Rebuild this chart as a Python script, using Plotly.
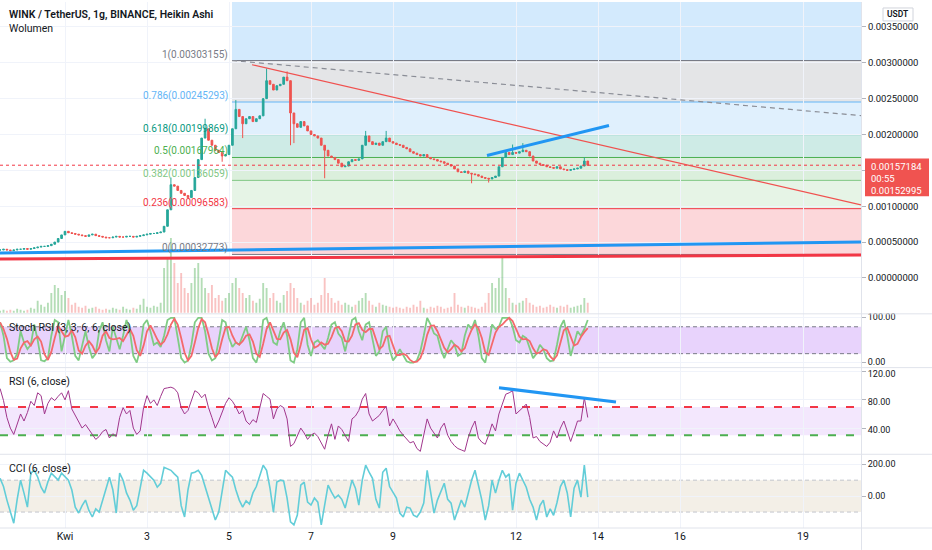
import plotly.graph_objects as go
import pandas as pd

# ---------------- data ----------------
START = pd.Timestamp("2021-03-30 10:00")
STEP_HOURS = 2

# Heikin Ashi close, in units of 1e-5 USDT
CLOSE_E5 = [
    39, 40, 39, 38, 39, 40, 40, 41, 40, 41,
    42, 43, 44, 44, 45, 47, 50, 55, 60, 65,
    63, 62, 61, 60, 59, 58, 60, 61, 59, 58,
    57, 56, 56, 57, 58, 57, 57, 58, 58, 57,
    58, 59, 60, 61, 62, 62, 63, 64, 72, 95,
    130, 128, 122, 118, 115, 112, 122, 140, 165, 195,
    208, 192, 185, 178, 175, 170, 172, 185, 208, 235,
    225, 215, 222, 225, 218, 222, 226, 250, 275, 270,
    262, 268, 270, 280, 275, 230, 215, 210, 218, 212,
    205, 200, 198, 195, 185, 178, 170, 168, 165, 160,
    155, 156, 162, 165, 164, 166, 185, 198, 190, 186,
    188, 185, 190, 195, 190, 188, 186, 185, 182, 180,
    176, 174, 172, 170, 172, 168, 166, 165, 163, 162,
    160, 158, 156, 152, 148, 147, 149, 146, 145, 144,
    142, 140, 139, 138, 140, 142, 155, 168, 175, 172,
    175, 174, 176, 178, 176, 170, 163, 160, 158, 157,
    155, 154, 153, 155, 152, 151, 150, 151, 152, 153,
    156, 163, 157,
]

WICK_IDX = [50, 60, 65, 69, 71, 78, 84, 85, 86, 95, 107, 113, 138, 143, 150, 153, 171]
WICK_HI_E5 = [140, 222, 0, 248, 0, 292, 288, 0, 0, 0, 205, 205, 0, 0, 186, 188, 168]
WICK_LO_E5 = [0, 0, 162, 0, 195, 0, 0, 185, 188, 139, 0, 0, 132, 133, 0, 0, 0]

VOLUME = [
    2, 3, 2, 3, 2, 4, 3, 2, 3, 5,
    4, 12, 8, 6, 10, 20, 28, 25, 18, 22,
    15, 8, 10, 6, 5, 7, 4, 5, 6, 4,
    3, 4, 3, 5, 4, 3, 6, 4, 3, 5,
    4, 8, 14, 6, 5, 7, 6, 10, 45, 55,
    75, 50, 30, 40, 25, 20, 30, 45, 50, 35,
    25, 20, 28, 15, 18, 12, 15, 20, 30, 35,
    25, 20, 15, 18, 12, 10, 14, 30, 25, 15,
    20, 12, 10, 18, 22, 30, 25, 15, 10, 8,
    12, 15, 8, 10, 18, 35, 20, 15, 10, 12,
    8, 10, 8, 6, 8, 12, 15, 20, 12, 8,
    6, 10, 8, 7, 6, 5, 6, 5, 4, 6,
    5, 8, 6, 12, 5, 4, 6, 5, 7, 6,
    4, 5, 6, 20, 8, 6, 5, 7, 6, 5,
    4, 6, 10, 20, 30, 25, 35, 55, 25, 15,
    10, 8, 10, 12, 15, 10, 8, 6, 7, 5,
    6, 8, 6, 5, 7, 6, 8, 5, 6, 7,
    8, 15, 10,
]

STOCH_K = [
    90, 60, 10, 2, 5, 20, 70, 45, 30, 40,
    85, 50, 5, 3, 10, 60, 95, 90, 25, 60,
    95, 60, 15, 5, 40, 70, 35, 10, 20, 70,
    90, 50, 25, 80, 55, 30, 60, 95, 70, 15,
    0, 30, 85, 95, 70, 40, 45, 35, 60, 95,
    100, 100, 55, 10, 0, 5, 40, 90, 100, 100,
    70, 20, 5, 10, 50, 95, 90, 55, 35, 45,
    40, 60, 80, 50, 10, 0, 30, 95, 100, 75,
    45, 40, 70, 90, 60, 5, 0, 30, 90, 100,
    40, 15, 45, 50, 40, 30, 55, 85, 90, 65,
    55, 25, 60, 95, 100, 70, 50, 85, 90, 50,
    15, 25, 70, 80, 30, 5, 15, 30, 15, 3,
    0, 0, 5, 25, 60, 100, 85, 65, 60, 30,
    10, 30, 50, 40, 15, 20, 60, 85, 75, 95,
    60, 10, 0, 40, 85, 75, 80, 100, 100, 100,
    80, 50, 45, 60, 55, 30, 10, 20, 40, 30,
    10, 3, 5, 40, 80, 95, 60, 15, 40, 70,
    60, 75, 95,
]

STOCH_D = [
    90, 75, 53, 24, 6, 9, 32, 45, 48, 38,
    52, 58, 47, 19, 6, 24, 55, 82, 70, 58,
    60, 72, 57, 27, 20, 38, 48, 38, 22, 33,
    60, 70, 55, 52, 53, 55, 48, 62, 75, 60,
    28, 15, 38, 70, 83, 68, 52, 40, 47, 63,
    85, 98, 85, 55, 22, 5, 15, 45, 77, 97,
    90, 63, 32, 12, 22, 52, 78, 80, 60, 45,
    40, 48, 60, 63, 47, 20, 13, 42, 75, 90,
    73, 53, 52, 67, 73, 52, 22, 12, 40, 73,
    77, 52, 33, 37, 45, 40, 42, 57, 77, 80,
    70, 48, 47, 60, 85, 88, 73, 68, 75, 75,
    52, 30, 37, 58, 60, 38, 17, 17, 20, 16,
    6, 1, 2, 10, 30, 62, 82, 83, 70, 52,
    33, 23, 30, 40, 35, 25, 32, 55, 73, 85,
    77, 55, 23, 17, 42, 67, 80, 85, 93, 100,
    93, 77, 58, 52, 53, 48, 32, 20, 23, 30,
    27, 14, 6, 16, 42, 72, 78, 57, 38, 42,
    57, 68, 77,
]

RSI6 = [
    96, 79, 55, 40, 31, 45, 60, 50, 62, 78,
    72, 90, 86, 60, 75, 83, 79, 85, 90, 80,
    93, 67, 58, 50, 40, 45, 38, 30, 24, 28,
    35, 38, 26, 32, 28, 55, 69, 60, 65, 40,
    31, 36, 69, 86, 75, 80, 72, 85, 96, 97,
    98, 96, 90, 69, 60, 65, 80, 93, 90, 83,
    88, 69, 55, 40, 50, 62, 75, 83, 78, 70,
    60, 65, 50, 45, 52, 48, 70, 89, 85, 81,
    53, 67, 72, 69, 53, 14, 18, 28, 40, 33,
    24, 30, 33, 28, 20, 10, 30, 46, 24, 43,
    38, 30, 21, 53, 57, 65, 81, 89, 60, 50,
    54, 58, 65, 71, 43, 53, 45, 36, 30, 24,
    19, 21, 11, 7, 30, 53, 40, 33, 26, 40,
    47, 30, 21, 15, 11, 9, 7, 26, 40, 50,
    26, 20, 17, 30, 46, 36, 60, 74, 88, 90,
    93, 60, 64, 69, 74, 55, 26, 28, 21, 18,
    14, 20, 36, 26, 40, 50, 35, 21, 35, 50,
    50, 83, 55,
]

CCI6 = [
    112, 60, -25, -100, -170, -20, 100, 19, -69, 144,
    162, 120, 56, 19, 90, 144, 119, 100, 144, 120,
    100, 38, -69, -106, -60, -25, -90, -131, -80, -100,
    -25, 60, 119, 40, -106, 144, 100, 20, -25, -88,
    -60, 50, 162, 144, 120, 100, 56, 80, 181, 170,
    162, 140, 119, -60, -131, 40, 144, 150, 162, 130,
    60, -20, -88, -150, -100, 20, 162, 140, 119, 40,
    -25, -69, -30, -50, 20, 60, 120, 194, 162, 50,
    -100, 88, 100, 95, -12, -162, -181, -119, 69, 88,
    -38, -56, -12, -38, -181, -60, 69, 25, -12, 6,
    -20, -75, 20, 100, 50, -56, 100, 194, 150, 112,
    -20, -75, 150, 175, 60, 25, -12, -106, -131, -69,
    -75, -119, -131, -100, -44, 162, 40, -106, -25, 30,
    81, -20, -44, -150, -90, -25, -69, 20, 100, 162,
    60, -25, -150, -60, 100, 19, 100, 162, 119, 140,
    -88, 81, 144, 100, 56, -20, -69, -150, -60, -25,
    -131, -80, -120, -40, 60, 100, 20, -131, 50, 100,
    -6, 194, -6,
]

PRICE_TICKS = [0.0, 0.0005, 0.001, 0.0015, 0.002, 0.0025, 0.003, 0.0035]
TICK_DATES = ["2021-04-01", "2021-04-03", "2021-04-05", "2021-04-07", "2021-04-09",
              "2021-04-12", "2021-04-14", "2021-04-16", "2021-04-19"]
TICK_TEXT = ["Kwi", "3", "5", "7", "9", "12", "14", "16", "19"]

FIB_LOW = 0.00032773
FIB_HIGH = 0.00303155
FIB_LEVELS = [0, 0.236, 0.382, 0.5, 0.618, 0.786, 1, 1.618]
FIB_COLORS = ["#787b86", "#f23645", "#81c784", "#4caf50", "#089981", "#64b5f6", "#787b86", "#2196f3"]
FIB_FILLS = ["rgba(120,123,134,0.2)", "rgba(242,54,69,0.2)", "rgba(129,199,132,0.2)",
             "rgba(76,175,80,0.2)", "rgba(8,153,129,0.2)", "rgba(100,181,246,0.2)",
             "rgba(120,123,134,0.2)", "rgba(33,150,243,0.2)"]
FIB_START = "2021-04-05 01:45"

LAST_PRICE = 0.00157184
LAST_TEXT = ["0.00157184", "00:55", "0.00152995"]

# user drawings: (date0, value0, date1, value1)
GRAY_RAY = ("2021-04-05 01:45", 0.00303155, "2021-04-20 09:57", 0.002263)
RED_TREND = ("2021-04-05 13:28", 0.002972, "2021-04-20 09:57", 0.001018)
BLUE_TREND = ("2021-04-11 07:01", 0.001708, "2021-04-14 06:26", 0.002125)
BLUE_BASE = ("2021-03-30 09:57", 0.000347, "2021-04-20 09:57", 0.000500)
RED_BASE = ("2021-03-30 09:57", 0.000264, "2021-04-20 09:57", 0.000319)
RSI_TREND = ("2021-04-11 14:03", 97.1, "2021-04-14 10:32", 77.1)

# ---------------- checks ----------------
n = len(CLOSE_E5)
for nm, arr in [("VOLUME", VOLUME), ("STOCH_K", STOCH_K), ("STOCH_D", STOCH_D),
                ("RSI6", RSI6), ("CCI6", CCI6)]:
    if len(arr) != n:
        raise ValueError(f"{nm} has {len(arr)} values, expected {n}")

times = [START + pd.Timedelta(hours=STEP_HOURS * i) for i in range(n)]
close = [v * 1e-5 for v in CLOSE_E5]
open_ = [close[0]] + close[:-1]
high = [max(o, c) for o, c in zip(open_, close)]
low = [min(o, c) for o, c in zip(open_, close)]
for idx, hi, lo in zip(WICK_IDX, WICK_HI_E5, WICK_LO_E5):
    if hi:
        high[idx] = max(high[idx], hi * 1e-5)
    if lo:
        low[idx] = min(low[idx], lo * 1e-5)
vol_colors = ["rgba(76,175,80,0.42)" if c >= o else "rgba(239,83,80,0.35)"
              for o, c in zip(open_, close)]

# ---------------- geometry ----------------
W, H = 932, 550
ML, MR, MT, MB = 0, 71, 0, 22
PW, PH = W - ML - MR, H - MT - MB          # 861 x 528


def py(px):       # pixel row -> paper y
    return (PH - px) / PH


def pxx(px):      # pixel column -> paper x
    return px / PW


R0, R1 = "2021-03-30 09:57:04", "2021-04-20 09:57:04"
PRICE_RANGE = [-0.0005, 277 / 72000]

fig = go.Figure()

fig.add_trace(go.Bar(x=times, y=VOLUME, xaxis="x", yaxis="y2",
                     marker=dict(color=vol_colors, line=dict(width=0)),
                     width=STEP_HOURS * 3600 * 1000 * 0.55, hoverinfo="skip"))
fig.add_trace(go.Candlestick(
    x=times, open=open_, high=high, low=low, close=close, xaxis="x", yaxis="y",
    increasing=dict(line=dict(color="#26a69a", width=1), fillcolor="#26a69a"),
    decreasing=dict(line=dict(color="#ef5350", width=1), fillcolor="#ef5350"),
    whiskerwidth=0, hoverinfo="skip"))

fig.add_trace(go.Scatter(x=times, y=STOCH_K, xaxis="x", yaxis="y3", mode="lines",
                         line=dict(color="#7fcc84", width=1.8), hoverinfo="skip"))
fig.add_trace(go.Scatter(x=times, y=STOCH_D, xaxis="x", yaxis="y3", mode="lines",
                         line=dict(color="#f4696c", width=1.8), hoverinfo="skip"))
fig.add_trace(go.Scatter(x=times, y=RSI6, xaxis="x", yaxis="y4", mode="lines",
                         line=dict(color="#a0368c", width=1), hoverinfo="skip"))
fig.add_trace(go.Scatter(x=times, y=CCI6, xaxis="x", yaxis="y5", mode="lines",
                         line=dict(color="#62cdd8", width=1.6), hoverinfo="skip"))

shapes = []
annotations = []

# fib zones and level lines
fib_prices = [FIB_LOW + lv * (FIB_HIGH - FIB_LOW) for lv in FIB_LEVELS]
for k in range(1, len(FIB_LEVELS)):
    y0 = fib_prices[k - 1]
    y1 = min(fib_prices[k], PRICE_RANGE[1])
    shapes.append(dict(type="rect", xref="x", yref="y", x0=FIB_START, x1=R1, y0=y0, y1=y1,
                       fillcolor=FIB_FILLS[k], line=dict(width=0), layer="below"))
for k, lv in enumerate(FIB_LEVELS):
    p = fib_prices[k]
    if p > PRICE_RANGE[1]:
        continue
    shapes.append(dict(type="line", xref="x", yref="y", x0=FIB_START, x1=R1, y0=p, y1=p,
                       line=dict(color=FIB_COLORS[k], width=1), layer="below"))
    annotations.append(dict(xref="x", yref="y", x=FIB_START, y=p, xanchor="right", yanchor="bottom",
                            xshift=-2, yshift=-2, showarrow=False, text=f"{lv}({p:.8f})",
                            font=dict(size=10, color=FIB_COLORS[k])))

# indicator bands
shapes += [
    dict(type="rect", xref="paper", yref="y3", x0=0, x1=1, y0=20, y1=80,
         fillcolor="#e8d3fc", line=dict(width=0), layer="below"),
    dict(type="line", xref="paper", yref="y3", x0=0, x1=1, y0=80, y1=80,
         line=dict(color="#787b86", width=1, dash="4px,3px"), layer="below"),
    dict(type="line", xref="paper", yref="y3", x0=0, x1=1, y0=20, y1=20,
         line=dict(color="#787b86", width=1, dash="4px,3px"), layer="below"),
    dict(type="rect", xref="paper", yref="y4", x0=0, x1=1, y0=30, y1=70,
         fillcolor="#f3e7fd", line=dict(width=0), layer="below"),
    dict(type="line", xref="paper", yref="y4", x0=0, x1=1, y0=70, y1=70,
         line=dict(color="#f23645", width=2, dash="8px,10px"), layer="below"),
    dict(type="line", xref="paper", yref="y4", x0=0, x1=1, y0=30, y1=30,
         line=dict(color="#4caf50", width=2, dash="8px,10px"), layer="below"),
    dict(type="rect", xref="paper", yref="y5", x0=0, x1=1, y0=-100, y1=100,
         fillcolor="#f3efe7", line=dict(width=0), layer="below"),
    dict(type="line", xref="paper", yref="y5", x0=0, x1=1, y0=100, y1=100,
         line=dict(color="#c3c5cc", width=1, dash="4px,3px"), layer="below"),
    dict(type="line", xref="paper", yref="y5", x0=0, x1=1, y0=-100, y1=-100,
         line=dict(color="#c3c5cc", width=1, dash="4px,3px"), layer="below"),
]

# last price dotted line
shapes.append(dict(type="line", xref="paper", yref="y", x0=0, x1=1, y0=LAST_PRICE, y1=LAST_PRICE,
                   line=dict(color="#f23645", width=1, dash="dot")))

# user drawings
def seg(d, yref, color, width, dash="solid"):
    return dict(type="line", xref="x", yref=yref, x0=d[0], y0=d[1], x1=d[2], y1=d[3],
                line=dict(color=color, width=width, dash=dash))

shapes += [
    seg(GRAY_RAY, "y", "#8a8d96", 1.2, "5px,4px"),
    seg(RED_TREND, "y", "#f0514f", 1.2),
    seg(BLUE_TREND, "y", "#2196f3", 3),
    seg(BLUE_BASE, "y", "#2196f3", 3),
    seg(RED_BASE, "y", "#f23645", 3),
    seg(RSI_TREND, "y4", "#2196f3", 3),
]

# pane separators and price-axis border
for row in [313, 367, 454, 528]:
    shapes.append(dict(type="line", xref="paper", yref="paper", x0=0, x1=W / PW,
                       y0=py(row), y1=py(row), line=dict(color="#e0e3eb", width=1)))
shapes.append(dict(type="line", xref="paper", yref="paper", x0=1.0006, x1=1.0006,
                   y0=py(H), y1=1, line=dict(color="#e0e3eb", width=1)))

# last price label box
shapes.append(dict(type="rect", xref="paper", yref="paper", x0=pxx(865), x1=pxx(929),
                   y0=py(195), y1=py(157), fillcolor="#f05350", line=dict(width=0)))
for txt, row in zip(LAST_TEXT, [165, 177, 189]):
    annotations.append(dict(xref="paper", yref="paper", x=pxx(869), y=py(row), xanchor="left",
                            yanchor="middle", showarrow=False, text=txt,
                            font=dict(size=9.5, color="white")))

# USDT badge
shapes.append(dict(type="rect", xref="paper", yref="paper", x0=pxx(883), x1=pxx(913),
                   y0=py(19), y1=py(6), fillcolor="white", line=dict(color="#d1d4dc", width=1)))
annotations.append(dict(xref="paper", yref="paper", x=pxx(898), y=py(12.5), xanchor="center",
                        yanchor="middle", showarrow=False, text="USDT",
                        font=dict(size=8.5, color="#131722", weight=600)))

# pane titles
for txt, row, wt in [("WINK / TetherUS, 1g, BINANCE, Heikin Ashi", 13, 600), ("Wolumen", 27, 400),
                     ("Stoch RSI (3, 3, 6, 6, close)", 327, 400), ("RSI (6, close)", 381, 400),
                     ("CCI (6, close)", 468, 400)]:
    annotations.append(dict(xref="paper", yref="paper", x=pxx(7), y=py(row), xanchor="left",
                            yanchor="middle", showarrow=False, text=txt,
                            font=dict(size=10.5, color="#131722", weight=wt)))

yax_common = dict(side="right", anchor="x", ticks="outside", ticklen=4, tickcolor="#b2b5be",
                  showgrid=True, gridcolor="#f0f3fa", zeroline=False, showline=False,
                  fixedrange=True)

price_text = [("" if abs(v - 0.0015) < 1e-9 else f"{v:.8f}") for v in PRICE_TICKS]
tf = dict(size=9.5, color="#131722")
tf_small = dict(size=9, color="#131722")

fig.update_layout(
    width=W, height=H, margin=dict(l=ML, r=MR, t=MT, b=MB),
    paper_bgcolor="white", plot_bgcolor="white", showlegend=False,
    font=dict(family="Roboto, 'Liberation Sans', sans-serif", size=10, color="#131722"),
    xaxis=dict(type="date", range=[R0, R1], anchor="y5", domain=[0, 1], showgrid=True,
               gridcolor="#f0f3fa", tickvals=TICK_DATES, ticktext=TICK_TEXT, ticks="",
               tickfont=dict(size=10.5, color="#131722"), zeroline=False, showline=False,
               rangeslider=dict(visible=False), fixedrange=True),
    yaxis=dict(domain=[py(313), 1], range=PRICE_RANGE, tickvals=PRICE_TICKS,
               ticktext=price_text, tickfont=tf, **yax_common),
    yaxis2=dict(overlaying="y", anchor="x", range=[-1, 312], visible=False, fixedrange=True),
    yaxis3=dict(domain=[py(367), py(313)], range=[-11.1, 108.9], tickvals=[0, 100],
                ticktext=["0.00", "100.00"], tickfont=tf_small, ticklabelshift=-1, **yax_common),
    yaxis4=dict(domain=[py(454), py(367)], range=[2.86, 125.71], tickvals=[40, 80, 120],
                ticktext=["40.00", "80.00", "120.00"], tickfont=tf_small, ticklabelshift=2,
                **yax_common),
    yaxis5=dict(domain=[0, py(454)], range=[-200, 262.5], tickvals=[0, 200],
                ticktext=["0.00", "200.00"], tickfont=tf_small, **yax_common),
    shapes=shapes, annotations=annotations,
)

fig.write_html("out.html", config={"displayModeBar": False, "staticPlot": True},
               post_script="document.body.style.margin='0';document.body.style.overflow='hidden';")
